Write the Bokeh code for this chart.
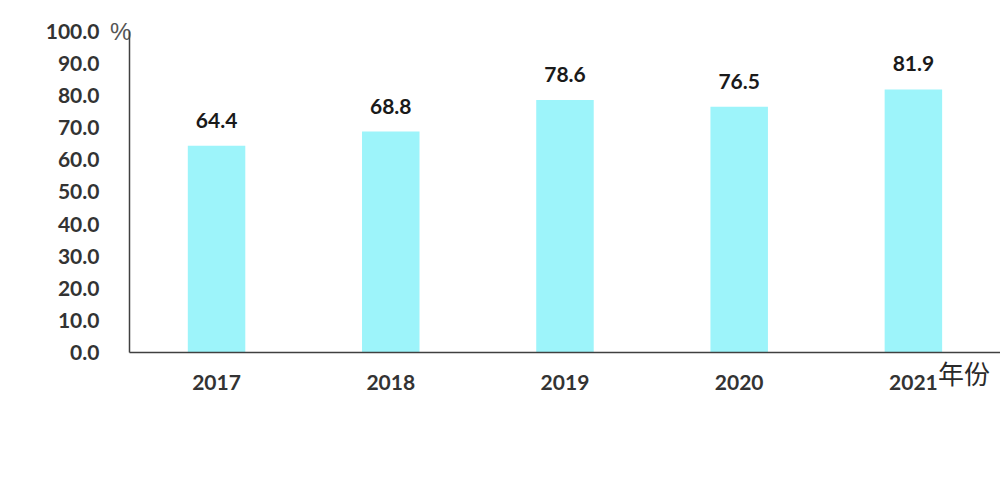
from bokeh.plotting import figure
from bokeh.models import ColumnDataSource, FixedTicker, Range1d
from bokeh.core.properties import value
from bokeh.embed import file_html
from bokeh.resources import INLINE

years = ["2017", "2018", "2019", "2020", "2021"]
values = [64.4, 68.8, 78.6, 76.5, 81.9]
value_labels = ["64.4", "68.8", "78.6", "76.5", "81.9"]
y_ticks = [0, 10, 20, 30, 40, 50, 60, 70, 80, 90, 100]
y_tick_labels = ["0.0", "10.0", "20.0", "30.0", "40.0", "50.0", "60.0", "70.0", "80.0", "90.0", "100.0"]
y_unit = "%"
x_unit = "年份"

# one slot per year: slot centres at 0.5, 1.5, ...
x_pos = [i + 0.5 for i in range(len(years))]
n = len(years)

source = ColumnDataSource(data=dict(x=x_pos, years=years, values=values, labels=value_labels))

p = figure(width=1000, height=489, x_range=Range1d(-0.568, n),
           y_range=Range1d(-14, 104), output_backend="svg", toolbar_location=None,
           min_border_left=30, min_border_right=0, min_border_top=18, min_border_bottom=92)
p.outline_line_color = None
p.background_fill_color = "white"
p.border_fill_color = "white"
p.grid.visible = False

p.vbar(x="x", top="values", width=0.33, source=source,
       fill_color="#9df4fa", line_color=None)

p.text(x="x", y="values", text="labels", source=source,
       text_align="center", text_baseline="bottom", y_offset=-18,
       text_font=value("Lato"), text_font_style="bold", text_font_size="21px",
       text_color="#1a1a1a")

# unit texts beside the axes
p.text(x=[n - 0.21], y=[-6.3], text=[x_unit], text_align="center", text_baseline="middle",
       text_font=value("Noto Sans CJK SC"), text_font_size="26px", text_color="#2a2a2a")
p.text(x=[-0.05], y=[100], text=[y_unit], text_align="center", text_baseline="middle",
       text_font=value("Liberation Sans"), text_font_size="24px", text_color="#555555")

font = "Lato"
p.yaxis.fixed_location = 0
p.yaxis.ticker = FixedTicker(ticks=y_ticks)
p.yaxis.bounds = (0, 100)
p.yaxis.major_label_overrides = {t: l for t, l in zip(y_ticks, y_tick_labels)}
p.yaxis.major_tick_line_color = None
p.yaxis.minor_tick_line_color = None
p.yaxis.major_label_standoff = 24
p.yaxis.major_label_text_font = font
p.yaxis.major_label_text_font_style = "bold"
p.yaxis.major_label_text_font_size = "21px"
p.yaxis.major_label_text_color = "#333333"
p.yaxis.axis_line_color = "#404040"
p.yaxis.axis_line_width = 1.5

p.xaxis.fixed_location = 0
p.xaxis.bounds = (0, n)
p.xaxis.ticker = FixedTicker(ticks=x_pos)
p.xaxis.major_label_overrides = {x: y for x, y in zip(x_pos, years)}
p.xaxis.major_tick_line_color = None
p.xaxis.minor_tick_line_color = None
p.xaxis.major_label_standoff = 16
p.xaxis.major_label_text_font = font
p.xaxis.major_label_text_font_style = "bold"
p.xaxis.major_label_text_font_size = "21px"
p.xaxis.major_label_text_color = "#333333"
p.xaxis.axis_line_color = "#404040"
p.xaxis.axis_line_width = 1.5

open("out.html", "w").write(file_html(p, INLINE))
